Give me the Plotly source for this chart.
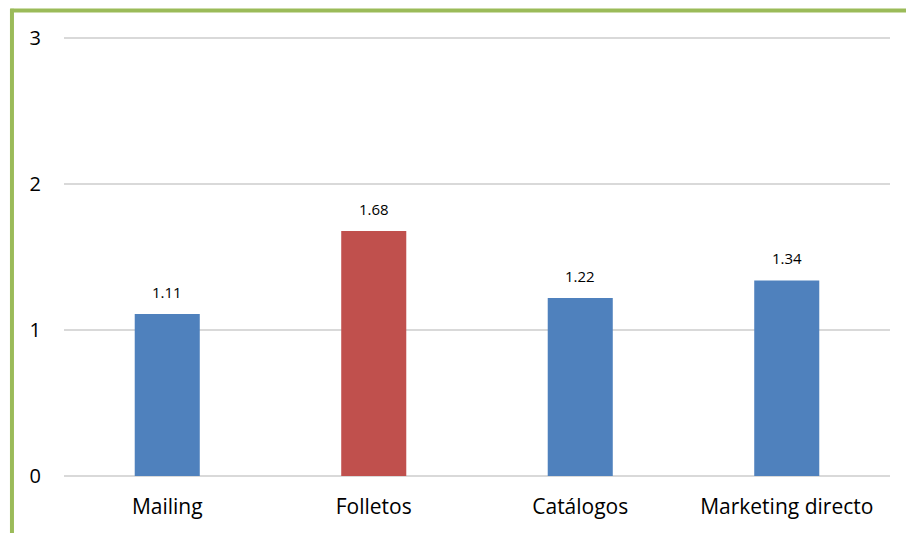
import plotly.graph_objects as go

categories = ["Mailing", "Folletos", "Catálogos", "Marketing directo"]
values = [1.11, 1.68, 1.22, 1.34]
bar_colors = ["#4F81BD", "#C0504D", "#4F81BD", "#4F81BD"]
y_ticks = [0, 1, 2, 3]

FONT = "Open Sans, Lato, sans-serif"

fig = go.Figure(
    go.Bar(
        x=categories,
        y=values,
        marker=dict(color=bar_colors, line=dict(width=0)),
        width=0.315,
        hoverinfo="skip",
    )
)

# value labels above each bar
for cat, val in zip(categories, values):
    fig.add_annotation(
        x=cat, y=val, text=f"{val:.2f}", showarrow=False,
        yshift=22, font=dict(family=FONT, size=15, color="#000000"),
    )

# green frame on the left and top of the chart
green = "#9BBB59"
fig.add_shape(type="line", xref="paper", yref="paper",
              x0=-0.063, x1=-0.063, y0=1.05, y1=-0.2,
              line=dict(color=green, width=4))
fig.add_shape(type="line", xref="paper", yref="paper",
              x0=-0.065, x1=1.1, y0=1.046, y1=1.046,
              line=dict(color=green, width=4))

fig.update_layout(
    width=906, height=533,
    margin=dict(l=64, r=16, t=31, b=57),
    paper_bgcolor="white", plot_bgcolor="white",
    showlegend=False,
    font=dict(family=FONT, color="#000000"),
)
fig.update_yaxes(
    range=[0, 3.05], tickvals=y_ticks, showgrid=True, gridcolor="#D9D9D9", gridwidth=1.5,
    zeroline=True, zerolinecolor="#D9D9D9", zerolinewidth=1.5,
    showline=False, ticks="", tickfont=dict(size=20), ticklabelstandoff=22,
)
fig.update_xaxes(
    showgrid=False, showline=False, ticks="", tickfont=dict(size=21),
    ticklabelstandoff=16,
)

fig.write_html("out.html")
